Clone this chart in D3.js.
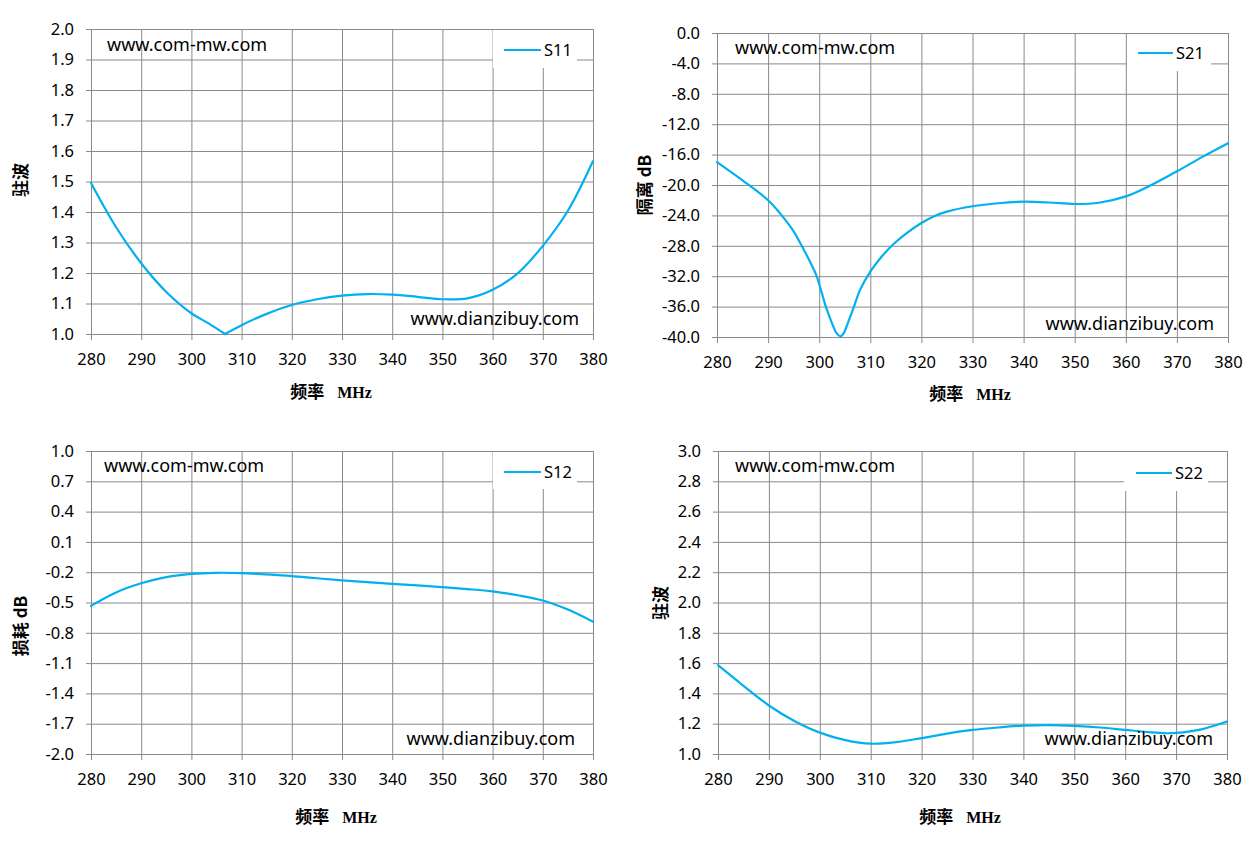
<!DOCTYPE html>
<html><head><meta charset="utf-8">
<script src="https://cdn.jsdelivr.net/npm/d3@7"></script>
<style>body{margin:0;background:#fff}svg{display:block}</style>
</head><body>
<svg id="c" width="1256" height="841"></svg>
<script>
// ---------- data ----------
const xTicks = [280, 290, 300, 310, 320, 330, 340, 350, 360, 370, 380];

const freqS11 = [280,285,290,295,300,303.5,306.7,310,315,320,325,330,335,340,345,350,355,360,365,370,375,380];
const valS11  = [1.495,1.35,1.232,1.138,1.068,1.034,1.0,1.029,1.066,1.095,1.114,1.126,1.131,1.129,1.122,1.114,1.117,1.145,1.199,1.289,1.404,1.567];
const yTicksS11 = [1.0,1.1,1.2,1.3,1.4,1.5,1.6,1.7,1.8,1.9,2.0];

const freqS21 = [280,285,290,292.3,294.9,296.5,298.2,299.5,300.5,301.4,302.4,303.4,304.1,304.7,305.7,306.7,308,310,312,314.5,317,320,322.5,325,330,335,340,345,350,355,360,365,370,375,380];
const valS21  = [-17.0,-19.4,-22.0,-23.7,-26.0,-27.9,-30.1,-32.0,-34.2,-36.2,-38.0,-39.5,-39.9,-39.6,-38.0,-36.2,-33.8,-31.4,-29.6,-27.8,-26.4,-25.0,-24.1,-23.5,-22.8,-22.4,-22.2,-22.3,-22.5,-22.3,-21.5,-20.0,-18.2,-16.3,-14.5];
const yTicksS21 = [0,-4,-8,-12,-16,-20,-24,-28,-32,-36,-40];

const freqS12 = [280,285,290,295,300,305,310,315,320,325,330,335,340,345,350,355,360,365,370,375,380];
const valS12  = [-0.533,-0.40,-0.31,-0.248,-0.216,-0.206,-0.209,-0.222,-0.238,-0.26,-0.28,-0.298,-0.315,-0.331,-0.348,-0.367,-0.39,-0.428,-0.48,-0.57,-0.69];
const yTicksS12 = [1.0,0.7,0.4,0.1,-0.2,-0.5,-0.8,-1.1,-1.4,-1.7,-2.0];

const freqS22 = [280,285,290,295,300,305,310,315,320,325,330,335,340,345,350,355,360,365,368,370,375,380];
const valS22  = [1.586,1.45,1.32,1.218,1.141,1.092,1.068,1.078,1.105,1.135,1.159,1.175,1.187,1.19,1.185,1.175,1.159,1.143,1.137,1.139,1.163,1.214];
const yTicksS22 = [1.0,1.2,1.4,1.6,1.8,2.0,2.2,2.4,2.6,2.8,3.0];

const seriesNames = ["S11", "S21", "S12", "S22"];
const yTitles = ["驻波", "隔离 dB", "损耗 dB", "驻波"];
const xTitleCn = "频率";
const xTitleUnit = "MHz";
const siteTop = "www.com-mw.com";
const siteBottom = "www.dianzibuy.com";

// ---------- layout ----------
const panels = [
  {name: seriesNames[0], f: freqS11, v: valS11, yd: [1.0, 2.0], yt: yTicksS11, yTitle: yTitles[0], cusp: true,
   L: 91, R: 593, T: 29, B: 334, legX: 493, legH: 39, lineY: 50, lineX1: 504, lineX2: 541,
   wm1: [107, 51], wm2: [579, 325], yt0: [21, 180], xt0: [331, 392]},
  {name: seriesNames[1], f: freqS21, v: valS21, yd: [-40, 0], yt: yTicksS21, yTitle: yTitles[1], cusp: false,
   L: 717, R: 1228, T: 33, B: 337, legX: 1127, legH: 38, lineY: 53, lineX1: 1138, lineX2: 1173,
   wm1: [735, 54], wm2: [1214, 330], yt0: [645, 185], xt0: [970, 394]},
  {name: seriesNames[2], f: freqS12, v: valS12, yd: [-2.0, 1.0], yt: yTicksS12, yTitle: yTitles[2], cusp: false,
   L: 91, R: 593, T: 451, B: 754, legX: 493, legH: 38, lineY: 472, lineX1: 504, lineX2: 541,
   wm1: [104, 472], wm2: [575, 745], yt0: [21, 626], xt0: [336, 817]},
  {name: seriesNames[3], f: freqS22, v: valS22, yd: [1.0, 3.0], yt: yTicksS22, yTitle: yTitles[3], cusp: false,
   L: 718, R: 1227, T: 451, B: 754, legX: 1124, legH: 40, lineY: 473, lineX1: 1136, lineX2: 1172,
   wm1: [735, 472], wm2: [1213, 745], yt0: [661, 603], xt0: [960, 817]}
];

const svg = d3.select("#c");
const gridColor = "#8a8a8a";
const lineColor = "#00B0F0";
const tickFont = "'Noto Sans', 'Open Sans', sans-serif";

panels.forEach(p => {
  const w = p.R - p.L, h = p.B - p.T;
  const x = d3.scaleLinear().domain([280, 380]).range([0, w]);
  const y = d3.scaleLinear().domain(p.yd).range([h, 0]);
  const g = svg.append("g").attr("transform", `translate(${p.L},${p.T})`);

  // y axis + horizontal grid
  const ya = g.append("g")
    .call(d3.axisLeft(y).tickValues(p.yt).tickFormat(d => d.toFixed(1)).tickSize(-w).tickPadding(17));
  ya.select(".domain").remove();
  ya.selectAll(".tick line").attr("x1", -5).attr("stroke", gridColor);
  ya.selectAll(".tick text").attr("fill", "#000").style("font-family", tickFont).style("font-size", "16.5px");

  // x axis + vertical grid
  const xa = g.append("g").attr("transform", `translate(0,${h})`)
    .call(d3.axisBottom(x).tickValues(xTicks).tickFormat(d3.format("d")).tickSize(-h).tickPadding(19));
  xa.select(".domain").remove();
  xa.selectAll(".tick line").attr("y1", 6).attr("stroke", gridColor);
  xa.selectAll(".tick text").attr("fill", "#000").style("font-family", tickFont).style("font-size", "16.5px");

  // legend box
  const lg = svg.append("g");
  lg.append("rect").attr("x", p.legX).attr("y", p.T + 1).attr("width", 84).attr("height", p.legH - 1).attr("fill", "#fff");

  // series line (split at a sharp minimum when the curve has a cusp)
  const pts = p.f.map((f, i) => [f, p.v[i]]);
  let segs = [pts];
  if (p.cusp) {
    const k = d3.minIndex(p.v);
    segs = [pts.slice(0, k + 1), pts.slice(k)];
  }
  const line = d3.line().x(d => x(d[0])).y(d => y(d[1])).curve(d3.curveCatmullRom.alpha(0.5));
  segs.forEach(s => {
    g.append("path").datum(s).attr("d", line).attr("fill", "none")
      .attr("stroke", lineColor).attr("stroke-width", 2.2).attr("stroke-linejoin", "round").attr("stroke-linecap", "round");
  });

  lg.append("line").attr("x1", p.lineX1).attr("x2", p.lineX2).attr("y1", p.lineY).attr("y2", p.lineY)
    .attr("stroke", lineColor).attr("stroke-width", 2.2);
  lg.append("text").attr("x", p.lineX2 + 3).attr("y", p.lineY + 6).text(p.name)
    .style("font-family", tickFont).style("font-size", "16.5px").attr("fill", "#000");

  // watermarks
  svg.append("text").attr("x", p.wm1[0]).attr("y", p.wm1[1]).text(siteTop)
    .style("font-family", tickFont).style("font-size", "18px").attr("fill", "#000");
  svg.append("text").attr("x", p.wm2[0]).attr("y", p.wm2[1]).attr("text-anchor", "end").text(siteBottom)
    .style("font-family", tickFont).style("font-size", "18px").attr("fill", "#000");

  // y title
  svg.append("text").attr("transform", `translate(${p.yt0[0]},${p.yt0[1]}) rotate(-90)`)
    .attr("text-anchor", "middle").attr("dy", "0.35em").text(p.yTitle)
    .style("font-family", "'Noto Sans CJK SC', sans-serif").style("font-weight", "bold").style("font-size", "17px").attr("fill", "#000");

  // x title
  const xt = svg.append("text").attr("x", p.xt0[0]).attr("y", p.xt0[1]).attr("dy", "0.35em")
    .attr("text-anchor", "middle").attr("fill", "#000").style("font-weight", "bold");
  xt.append("tspan").text(xTitleCn).style("font-family", "'Noto Sans CJK SC', sans-serif").style("font-size", "17px");
  xt.append("tspan").attr("dx", 13).text(xTitleUnit).style("font-family", "'Liberation Serif', serif").style("font-size", "16px");
});
</script>
</body></html>
